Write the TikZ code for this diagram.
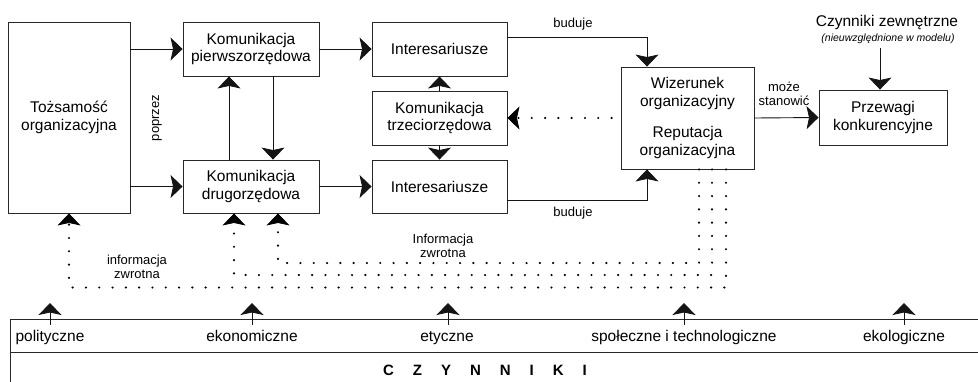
\documentclass[tikz,border=0pt]{standalone}
\usepackage{fontspec}
\setmainfont{Liberation Sans}
\usetikzlibrary{arrows.meta,calc}
\definecolor{boxc}{RGB}{40,40,40}
\definecolor{linec}{RGB}{20,20,20}
\begin{document}
\begin{tikzpicture}[x=1pt,y=-1pt,
  box/.style={draw=boxc, line width=0.9pt, align=center, font=\fontsize{15.5}{17.5}\selectfont, inner sep=0pt},
  tip/.style={-{Stealth[length=12pt,width=23pt,inset=2.5pt,line width=0.8pt]}},
  arr/.style={draw=linec, line width=0.9pt, tip},
  dotarr/.style={draw=black, line width=2.4pt, line cap=round, dash pattern=on 0pt off 13.3pt, tip},
  lbl/.style={font=\fontsize{13}{14}\selectfont, align=center, inner sep=0pt},
  big/.style={font=\fontsize{15.5}{17.5}\selectfont, inner sep=0pt}]
\useasboundingbox (0,0) rectangle (978,381);

% boxes
\node[box, minimum width=122pt, minimum height=191pt] (toz) at (69,117.5) {Tożsamość\\organizacyjna};
\node[box, minimum width=136pt, minimum height=54pt] (pier) at (251,49) {Komunikacja\\pierwszorzędowa};
\node[box, minimum width=136pt, minimum height=53pt] (drugo) at (251,186.5) {Komunikacja\\drugorzędowa};
\node[box, minimum width=135pt, minimum height=54pt] (intT) at (439.5,49) {Interesariusze};
\node[box, minimum width=135pt, minimum height=54pt] (trz) at (439.5,118) {Komunikacja\\trzeciorzędowa};
\node[box, minimum width=135pt, minimum height=53pt] (intB) at (439.5,186.5) {Interesariusze};
\node[box, minimum width=133pt, minimum height=102pt] (wiz) at (687.5,118) {Wizerunek\\organizacyjny\\[14pt]Reputacja\\organizacyjna};
\node[box, minimum width=128pt, minimum height=55pt] (prz) at (883,117.5) {Przewagi\\konkurencyjne};

% external factors
\node[big] (czz) at (887,22) {Czynniki zewnętrzne};
\node[font=\fontsize{10.5}{12}\selectfont\itshape, inner sep=0pt] (note) at (888,39) {(nieuwzględnione w modelu)};
\draw[arr] (880,0 |- note.south) ++(0,4) -- (880,0 |- prz.north);

% solid arrows
\draw[arr] (toz.east |- pier.west) -- (pier.west);
\draw[arr] (toz.east |- drugo.west) -- (drugo.west);
\draw[arr] (pier.east) -- (intT.west);
\draw[arr] (drugo.east) -- (intB.west);
\draw[arr] ([xshift=-22pt]drugo.north) -- ([xshift=-22pt]pier.south);
\draw[arr] ([xshift=22pt]pier.south) -- ([xshift=22pt]drugo.north);
\draw[arr] (trz.north) -- (intT.south);
\draw[arr] (trz.south) -- (intB.north);
\draw[arr] ([yshift=12pt]intT.east) -| ([xshift=-40.5pt]wiz.north);
\draw[arr] ([yshift=-13.5pt]intB.east) -| ([xshift=-40.5pt]wiz.south);
\draw[arr] (wiz.east) -- (prz.west);

% labels
\node[lbl, rotate=90] (poprzez) at (157,118) {poprzez};
\node[lbl] (bud1) at (573,24) {buduje};
\node[lbl] (bud2) at (573,213) {buduje};
\node[lbl] (moze) at (784,94) {może\\stanowić};
\node[lbl] (inf1) at (137,266.5) {informacja\\zwrotna};
\node[lbl] (inf2) at (443,245.5) {Informacja\\zwrotna};

% dotted arrows
\draw[dotarr, shorten <=9pt] (wiz.west) -- (trz.east);
\draw[dotarr] (699,0 |- wiz.south) -- (699,263) -- (278,263) -- (278,0 |- drugo.south);
\draw[dotarr] (712,0 |- wiz.south) -- (712,275) -- (234,275) -- (234,0 |- drugo.south);
\draw[dotarr] (726,0 |- wiz.south) -- (726,287.5) -- (69,287.5) -- (69,0 |- toz.south);

% factors strip
\draw[draw=boxc, line width=0.9pt] (990,319) -- (10,319) -- (10,395);
\draw[draw=boxc, line width=0.9pt] (10,352) -- (990,352);
\coordinate (s1) at (50,325);
\coordinate (s2) at (252,325);
\coordinate (s3) at (448,325);
\coordinate (s4) at (684,325);
\coordinate (s5) at (904,325);
\foreach \s in {s1,s2,s3,s4,s5}{
  \draw[arr] (\s) -- ++(0,-22);
}
\node[big, anchor=base] (f1) at (50,341) {polityczne};
\node[big, anchor=base] (f2) at (252,341) {ekonomiczne};
\node[big, anchor=base] (f3) at (447,341) {etyczne};
\node[big, anchor=base] (f4) at (684,341) {społeczne i technologiczne};
\node[big, anchor=base] (f5) at (904,341) {ekologiczne};
\node[font=\fontsize{15}{17}\selectfont\bfseries, inner sep=0pt, anchor=base] (cz) at (485,375)
  {C\hspace{19pt}Z\hspace{19pt}Y\hspace{19pt}N\hspace{19pt}N\hspace{19pt}I\hspace{19pt}K\hspace{19pt}I};
\end{tikzpicture}
\end{document}
